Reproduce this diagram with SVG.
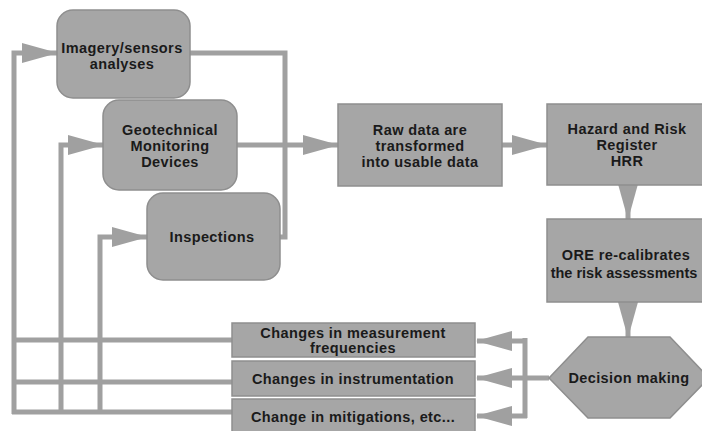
<svg xmlns="http://www.w3.org/2000/svg" width="702" height="431" viewBox="0 0 702 431">
  <style>
    .box { fill: #a6a6a6; stroke: #8e8e8e; stroke-width: 1.5; }
    .lbl { font-family: "Liberation Sans", Arial, sans-serif; font-size: 14.5px; font-weight: bold; letter-spacing: 0.4px; fill: #1a1a1a; text-anchor: middle; }
    .tight { letter-spacing: 0; }
    .wire { fill: none; stroke: #a0a0a0; stroke-width: 5; stroke-linejoin: miter; }
    .arrow { marker-end: url(#head); }
  </style>
  <defs>
    <marker id="head" markerUnits="userSpaceOnUse" markerWidth="36" markerHeight="20" refX="35" refY="10" orient="auto">
      <path d="M0,0 L36,10 L0,20 z" fill="#a0a0a0"/>
    </marker>
  </defs>
  <rect width="702" height="431" fill="#ffffff"/>

  <!-- connectors -->
  <g id="connectors">
    <!-- data sources to processing -->
    <path class="wire" d="M190,53 H285 V237 H280"/>
    <path class="wire arrow" d="M237,145 H338"/>
    <path class="wire arrow" d="M502,145 H547"/>
    <path class="wire arrow" d="M628,185 V219"/>
    <path class="wire arrow" d="M628,302 V337"/>
    <!-- decision fan-out -->
    <path class="wire" d="M549,378 H525 M525,338 V418"/>
    <path class="wire arrow" d="M527,341 H477"/>
    <path class="wire arrow" d="M527,378 H477"/>
    <path class="wire arrow" d="M527,416 H477"/>
    <!-- feedback loop back to sources -->
    <path class="wire" d="M232,340 H14 M232,382 H14 M232,412 H12"/>
    <path class="wire arrow" d="M14,414 V53 H57"/>
    <path class="wire arrow" d="M61,412 V145 H103"/>
    <path class="wire arrow" d="M100,412 V237 H147"/>
  </g>

  <g id="imagery">
    <rect class="box" x="57" y="10" width="133" height="88" rx="16"/>
    <text class="lbl" x="122" y="53">Imagery/sensors</text>
    <text class="lbl" x="122" y="69">analyses</text>
  </g>
  <g id="geotechnical">
    <rect class="box" x="103" y="100" width="134" height="90" rx="16"/>
    <text class="lbl" x="170" y="135">Geotechnical</text>
    <text class="lbl" x="170" y="151">Monitoring</text>
    <text class="lbl" x="170" y="167">Devices</text>
  </g>
  <g id="inspections">
    <rect class="box" x="147" y="193" width="133" height="87" rx="16"/>
    <text class="lbl" x="212" y="242">Inspections</text>
  </g>
  <g id="raw-data">
    <rect class="box" x="338" y="104" width="164" height="82"/>
    <text class="lbl" x="420" y="135">Raw data are</text>
    <text class="lbl" x="420" y="151">transformed</text>
    <text class="lbl" x="420" y="167">into usable data</text>
  </g>
  <g id="hrr">
    <rect class="box" x="547" y="104" width="160" height="81"/>
    <text class="lbl" x="627" y="134">Hazard and Risk</text>
    <text class="lbl" x="627" y="150">Register</text>
    <text class="lbl" x="627" y="166">HRR</text>
  </g>
  <g id="ore">
    <rect class="box" x="547" y="219" width="160" height="83"/>
    <text class="lbl" x="626" y="260">ORE re-calibrates</text>
    <text class="lbl tight" x="624" y="278">the risk assessments</text>
  </g>
  <g id="decision">
    <polygon class="box" points="549,378 588,337 670,337 709,378 670,418 588,418"/>
    <text class="lbl" x="629" y="383">Decision making</text>
  </g>
  <g id="change-frequencies">
    <rect class="box" x="232" y="323" width="243" height="34"/>
    <text class="lbl" x="353" y="338">Changes in measurement</text>
    <text class="lbl" x="353" y="353">frequencies</text>
  </g>
  <g id="change-instrumentation">
    <rect class="box" x="232" y="361" width="243" height="35"/>
    <text class="lbl" x="353" y="384">Changes in instrumentation</text>
  </g>
  <g id="change-mitigations">
    <rect class="box" x="232" y="399" width="243" height="36"/>
    <text class="lbl" x="353" y="422">Change in mitigations, etc...</text>
  </g>
</svg>
